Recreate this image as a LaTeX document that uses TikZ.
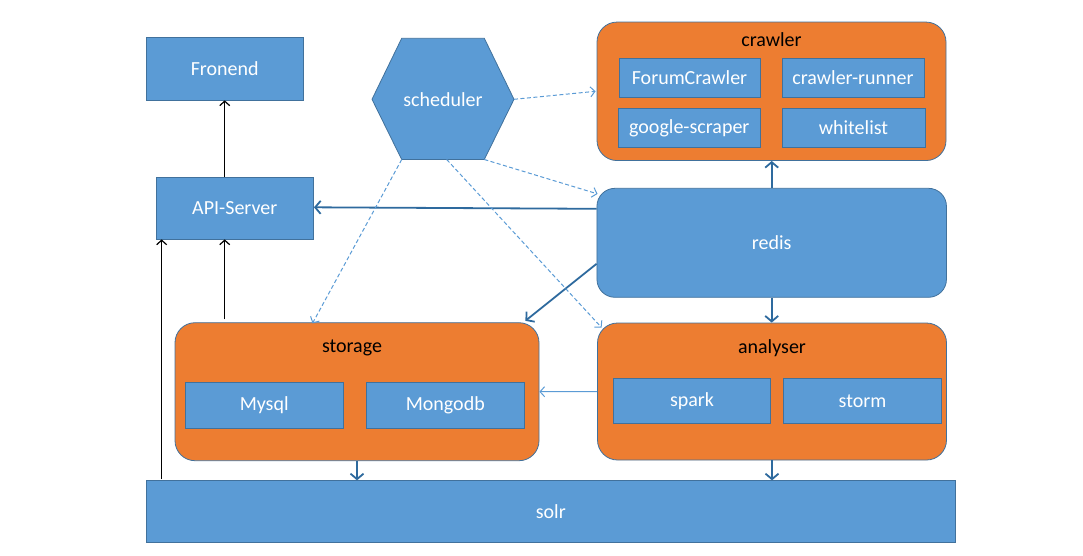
\documentclass[tikz,border=0pt]{standalone}
\usepackage{fontspec}
\setmainfont{Carlito}
\usetikzlibrary{arrows.meta,calc}
\definecolor{boxblue}{HTML}{5B9BD5}
\definecolor{edgeblue}{HTML}{41719C}
\definecolor{orng}{HTML}{ED7D31}
\definecolor{darkarr}{HTML}{2E6A9E}
\definecolor{lightarr}{HTML}{5B9BD5}
\begin{document}
\begin{tikzpicture}[x=1pt,y=-1pt,
  every node/.style={font=\fontsize{20}{24}\selectfont, inner sep=0pt},
  bbox/.style={draw=edgeblue, fill=boxblue, text=white, line width=0.8pt},
  cont/.style={draw=edgeblue, fill=orng, line width=0.8pt, rounded corners=20pt},
  rbox/.style={draw=edgeblue, fill=boxblue, line width=0.8pt, rounded corners=18pt},
  ttl/.style={text=black},
  blackarr/.style={draw=black, line width=1.2pt, -{Straight Barb[length=4.5pt,width=10pt]}},
  darkarrow/.style={draw=darkarr, line width=1.8pt, -{Straight Barb[length=5.5pt,width=13pt]}},
  lightsolid/.style={draw=lightarr, line width=1pt, -{Straight Barb[length=4.5pt,width=10pt]}},
  dasharr/.style={draw=lightarr, line width=1pt, dash pattern=on 4pt off 2.5pt, -{Straight Barb[length=4.5pt,width=10pt]}}
]
\useasboundingbox (0,0) rectangle (1083,555);

% containers
\node[cont, minimum width=349pt, minimum height=138.5pt] (crawler) at (771.5,91.3) {};
\node[ttl] (crawlerT) at (771.5,40) {crawler};
\node[bbox, minimum width=141pt, minimum height=39pt] (forum) at (689.5,77.8) {ForumCrawler};
\node[bbox, minimum width=142pt, minimum height=39pt] (runner) at (853,77.8) {crawler-runner};
\node[bbox, minimum width=141.5pt, minimum height=39.4pt] (google) at (689.3,128) {google-scraper};
\node[bbox, minimum width=143pt, minimum height=39.4pt] (white) at (853.5,128) {whitelist};

\node[rbox, text=white, minimum width=349.5pt, minimum height=109pt] (redis) at (771.7,242.8) {redis};

\node[cont, minimum width=349pt, minimum height=137pt] (analyser) at (772,391.5) {};
\node[ttl] (analyserT) at (772,348) {analyser};
\node[bbox, minimum width=157.5pt, minimum height=44.5pt] (spark) at (692,401) {spark};
\node[bbox, minimum width=158.5pt, minimum height=44.5pt] (storm) at (862.5,401) {storm};

\node[cont, minimum width=364pt, minimum height=138pt] (storage) at (357,391.7) {};
\node[ttl] (storageT) at (352,348) {storage};
\node[bbox, minimum width=158pt, minimum height=46pt] (mysql) at (264.2,405.3) {Mysql};
\node[bbox, minimum width=157.3pt, minimum height=46pt] (mongo) at (445.3,405.3) {Mongodb};

\node[bbox, minimum width=809.5pt, minimum height=61.5pt] (solr) at (550.8,511.5) {solr};

\node[bbox, minimum width=157.3pt, minimum height=62.3pt] (fron) at (224.7,68.8) {Fronend};
\node[bbox, minimum width=157.5pt, minimum height=62pt] (api) at (234.8,208) {API-Server};

% scheduler hexagon
\coordinate (hL) at (372,99.3);
\coordinate (hTL) at (401.7,38.3);
\coordinate (hTR) at (484.3,38.3);
\coordinate (hR) at (514,99.3);
\coordinate (hBR) at (484.3,159.5);
\coordinate (hBL) at (401.7,159.5);
\coordinate (hB) at (446.7,159.5);
\draw[draw=edgeblue, fill=boxblue, line width=0.8pt] (hL) -- (hTL) -- (hTR) -- (hR) -- (hBR) -- (hBL) -- cycle;
\node[text=white] (sched) at (443,99.3) {scheduler};

% black arrows
\draw[blackarr] (api.north -| fron.south) -- (fron.south);
\coordinate (solrtop) at ($(solr.north west)+(16,-1)$);
\draw[blackarr] (solrtop) -- (solrtop |- api.south);
\coordinate (stortop) at ($(storage.north -| fron.south)+(0,-3)$);
\draw[blackarr] (stortop) -- (stortop |- api.south);

% dark arrows from redis
\draw[darkarrow] ([yshift=34pt]redis.west) -- ([yshift=0.7pt]api.east);
\draw[darkarrow] ([yshift=-21pt]redis.west) -- ([xshift=-14pt,yshift=1.5pt]storage.north east);
\draw[darkarrow] (redis.north) -- (redis.north |- crawler.south);
\draw[darkarrow] (redis.south) -- (redis.south |- analyser.north);
\draw[darkarrow] (storage.south) -- (storage.south |- solr.north);
\draw[darkarrow] (analyser.south) -- (analyser.south |- solr.north);

% analyser -> storage
\draw[lightsolid] (analyser.west) -- (storage.east);

% dashed scheduler arrows
\draw[dasharr] (hR) -- ([xshift=-1pt]crawler.west);
\draw[dasharr] (hBR) -- ([xshift=1pt,yshift=-6pt]redis.north west);
\draw[dasharr] (hB) -- ([xshift=4.5pt,yshift=-5pt]analyser.north west);
\draw[dasharr] (hBL) -- ([xshift=-44.5pt,yshift=-1pt]storage.north);
\end{tikzpicture}
\end{document}
